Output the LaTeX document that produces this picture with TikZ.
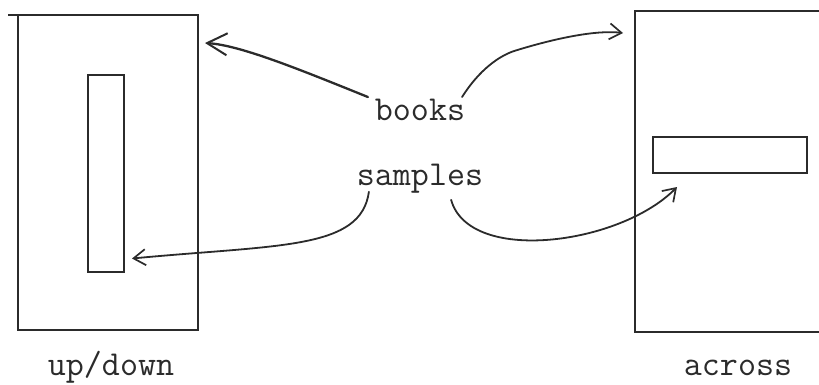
\documentclass[tikz,border=0pt]{standalone}
\usepackage{fontspec}
\usetikzlibrary{arrows.meta,calc}
\definecolor{ink}{HTML}{2B2B2B}
\begin{document}
\begin{tikzpicture}[x=1pt,y=-1pt,
  frame/.style={draw=ink,line width=2.6pt,inner sep=0pt,outer sep=0pt},
  label/.style={text=ink,font=\ttfamily\fontsize{35}{40}\selectfont,inner sep=0pt,outer sep=0pt,anchor=base},
  conn/.style={draw=ink,line width=1.8pt,line cap=round},
  tip/.style={-{Straight Barb[length=12pt,width=16pt,line width=1.7pt]}}
]
\useasboundingbox (0,0) rectangle (819,384);
\clip (0,0) rectangle (819,384);
% boxes
\node[frame,minimum width=180pt,minimum height=315pt] (lbox) at (108,172.5) {};
\node[frame,minimum width=36pt,minimum height=197pt] (linner) at (106,173.5) {};
\node[frame,minimum width=195pt,minimum height=321pt] (rbox) at (732.5,171.5) {};
\node[frame,minimum width=154pt,minimum height=36pt] (rinner) at (730,155) {};
\draw[draw=ink,line width=2.6pt] (lbox.north west) -- ++(-10,0);
% labels
\node[label] (books) at (420,120) {books};
\node[label] (samples) at (420,185) {samples};
\node[label] (updown) at (111,375) {up/down};
\node[label] (across) at (738,375) {across};
% connectors
\draw[conn,line width=2.3pt,-{Straight Barb[length=20pt,width=22pt,line width=2pt]}]
  ($(books.north west)+(-7,-1.6)$) .. controls +(-67,-27) and +(35,2) .. ($(lbox.north east)+(7,28)$);
\draw[conn,tip]
  ($(books.north east)+(-3,-1.6)$) .. controls +(17,-27) and +(-15,5) .. ++(52,-46)
  .. controls +(45,-14) and +(-25,-3) .. ($(rbox.north west)+(-12,22)$);
\draw[conn,tip]
  ($(samples.south west)+(12,-1)$) .. controls +(-8,58) and +(148,-14) .. ($(linner.east)+(8,85)$);
\draw[conn,tip]
  ($(samples.south east)+(-32,7)$) .. controls +(18,65) and +(-57,58) .. ($(rinner.south west)+(24,14)$);
\end{tikzpicture}
\end{document}
